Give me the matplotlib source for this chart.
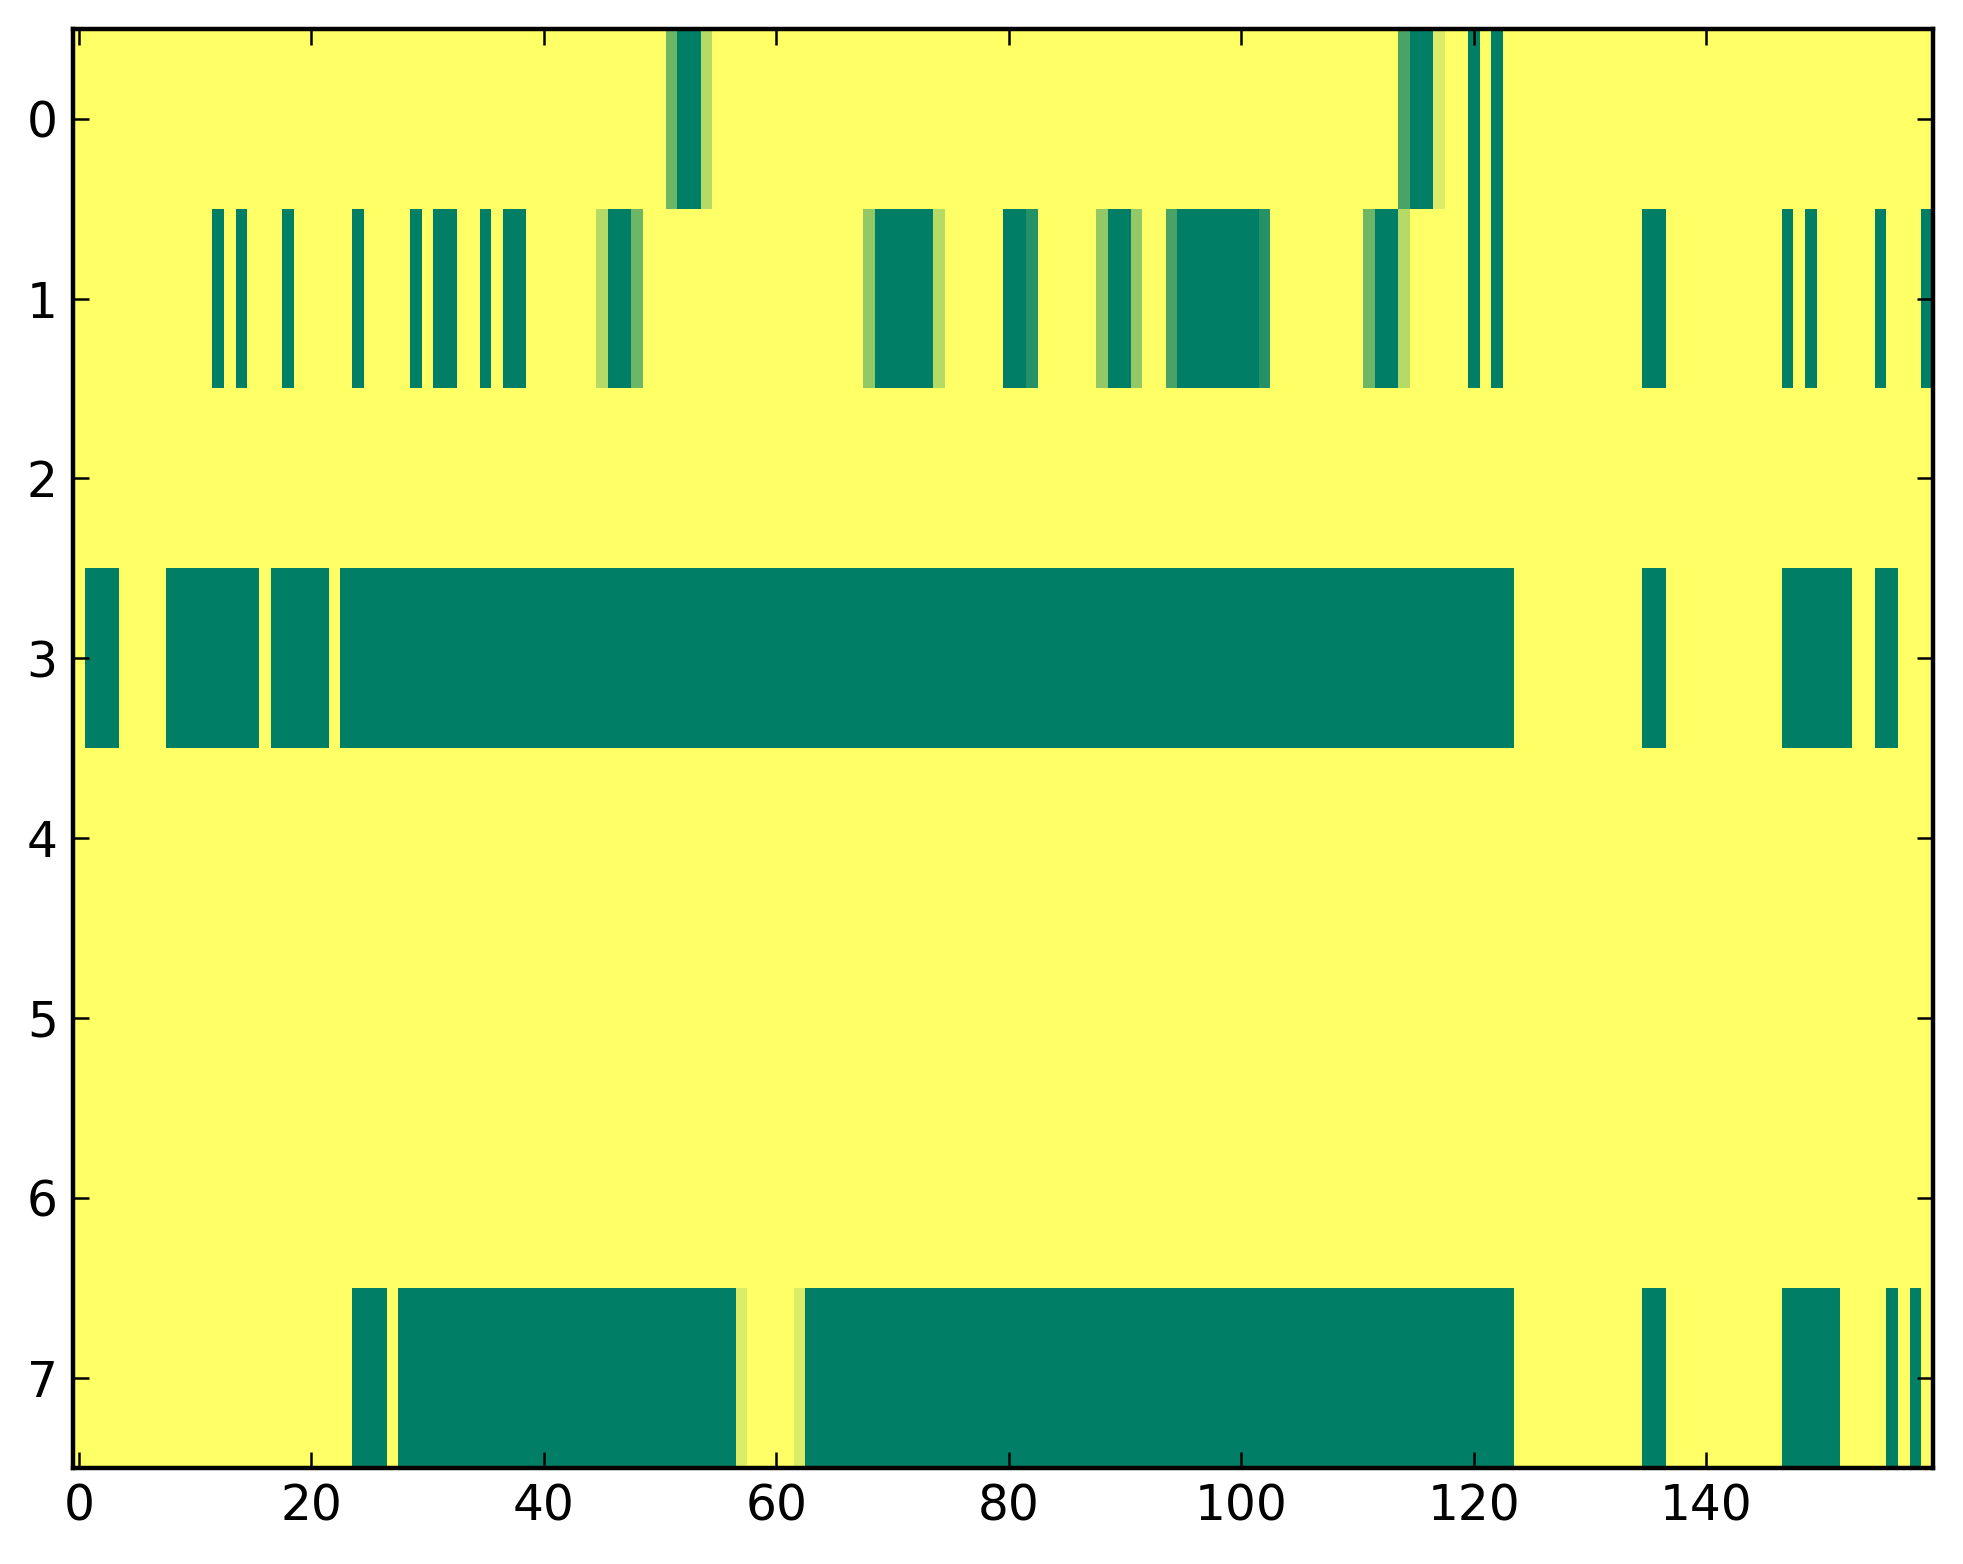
import numpy as np
import matplotlib
matplotlib.use("Agg")
import matplotlib.pyplot as plt

n_rows = 8
n_cols = 160

# cell runs per row: (first column, last column, level in sevenths)
row0_runs = [(51, 51, 4), (52, 53, 7), (54, 54, 2),
             (114, 114, 5), (115, 116, 7), (117, 117, 1),
             (120, 120, 7), (122, 122, 7)]
row1_runs = [(12, 12, 7), (14, 14, 7), (18, 18, 7), (24, 24, 7), (29, 29, 7),
             (31, 32, 7), (35, 35, 7), (37, 38, 7),
             (45, 45, 2), (46, 47, 7), (48, 48, 4),
             (68, 68, 3), (69, 73, 7), (74, 74, 2),
             (80, 81, 7), (82, 82, 6),
             (88, 88, 3), (89, 90, 7), (91, 91, 3),
             (94, 94, 5), (95, 101, 7), (102, 102, 6),
             (111, 111, 4), (112, 113, 7), (114, 114, 2),
             (120, 120, 7), (122, 122, 7), (135, 136, 7),
             (147, 147, 7), (149, 149, 7), (155, 155, 7), (159, 159, 7)]
row2_runs = []
row3_runs = [(1, 3, 7), (8, 15, 7), (17, 21, 7), (23, 123, 7),
             (135, 136, 7), (147, 152, 7), (155, 156, 7)]
row4_runs = []
row5_runs = []
row6_runs = []
row7_runs = [(24, 26, 7), (28, 56, 7), (57, 57, 1), (62, 62, 1), (63, 123, 7),
             (135, 136, 7), (147, 151, 7), (156, 156, 7), (158, 158, 7)]

all_runs = [row0_runs, row1_runs, row2_runs, row3_runs,
            row4_runs, row5_runs, row6_runs, row7_runs]

grid = np.zeros((n_rows, n_cols))
for r, runs in enumerate(all_runs):
    for a, b, lvl in runs:
        grid[r, a:b + 1] = lvl / 7.0

fig = plt.figure(figsize=(19.63, 15.64), dpi=100)
ax = fig.add_axes([0.0372, 0.0617, 0.9475, 0.9198])
ax.imshow(grid, cmap="summer_r", vmin=0, vmax=1,
          interpolation="nearest", aspect="auto")

ax.set_xticks(np.arange(0, 141, 20))
ax.set_yticks(np.arange(0, 8))
ax.tick_params(direction="in", top=True, right=True, length=11.5,
               width=1.8, labelsize=35, pad=11)
for sp in ax.spines.values():
    sp.set_linewidth(3.2)

fig.savefig("out.png", dpi=100)
